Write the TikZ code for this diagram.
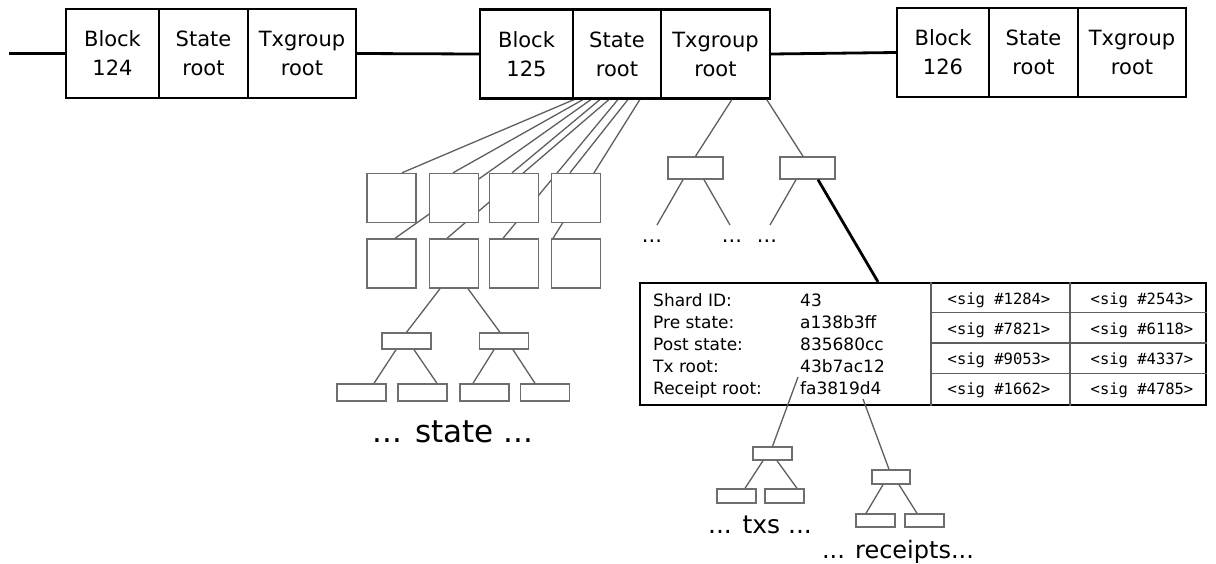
\documentclass[tikz,border=0pt]{standalone}
\usepackage{fontspec}
\setmainfont{DejaVu Sans}
\setmonofont{DejaVu Sans Mono}
\pgfdeclarelayer{bg}
\pgfsetlayers{bg,main}
\definecolor{lg}{HTML}{5E5E5E}
\definecolor{bx}{HTML}{6E6E6E}
\tikzset{
  cell/.style={draw, line width=2.4pt, minimum height=89pt, inner sep=0pt, align=center, font=\fontsize{21}{29}\selectfont},
  sq/.style={draw=bx, fill=white, line width=1.4pt, minimum width=49pt, minimum height=49pt, inner sep=0pt},
  sm/.style={draw=bx, fill=white, line width=1.4pt, inner sep=0pt},
  conn/.style={draw=lg, line width=1.3pt},
  chain/.style={draw, line width=2.8pt},
  lbl/.style={anchor=base west, inner sep=0pt, font=\fontsize{17}{17}\selectfont},
  sig/.style={anchor=base, inner sep=0pt, font=\ttfamily\fontsize{15.5}{15.5}\selectfont},
  dots/.style={inner sep=0pt, font=\fontsize{21}{21}\selectfont},
}
\begin{document}
\begin{tikzpicture}[x=1pt,y=-1pt]
\useasboundingbox (0,0) rectangle (1216,563);
% blocks
\node[cell, minimum width=93pt] (b124) at (112.5,53.5) {Block\\124};
\node[cell, minimum width=89pt] (s124) at (203.5,53.5) {State\\root};
\node[cell, minimum width=108pt] (t124) at (302,53.5) {Txgroup\\root};
\node[cell, minimum width=93pt] (b125) at (526.5,54) {Block\\125};
\node[cell, minimum width=88pt] (s125) at (617,54) {State\\root};
\node[cell, minimum width=109pt] (t125) at (715.5,54) {Txgroup\\root};
\node[cell, minimum width=92pt] (b126) at (943,52.5) {Block\\126};
\node[cell, minimum width=89pt] (s126) at (1033.5,52.5) {State\\root};
\node[cell, minimum width=108pt] (t126) at (1132,52.5) {Txgroup\\root};
\coordinate (lft) at (9,53.5);
\draw[chain] (lft) -- (b124.west);
\draw[chain] (t124.east) -- (b125.west);
\draw[chain] (t125.east) -- (b126.west);

% state boxes
\node[sq] (r1c1) at (391.5,198) {};
\node[sq] (r1c2) at (454,198) {};
\node[sq] (r1c3) at (514,198) {};
\node[sq] (r1c4) at (576,198) {};
\node[sq] (r2c1) at (391.5,263.5) {};
\node[sq] (r2c2) at (454,263.5) {};
\node[sq] (r2c3) at (514,263.5) {};
\node[sq] (r2c4) at (576,263.5) {};
\begin{pgfonlayer}{bg}
\draw[conn] ([xshift=2pt]s125.south west) -- ([xshift=10.5pt]r1c1.north);
\draw[conn] ([xshift=11pt]s125.south west) -- ([xshift=-1pt]r1c2.north);
\draw[conn] ([xshift=19pt]s125.south west) -- ([xshift=3.5pt]r2c1.north);
\draw[conn] ([xshift=28pt]s125.south west) -- ([xshift=-2pt]r1c3.north);
\draw[conn] ([xshift=37pt]s125.south west) -- ([xshift=-7pt]r2c2.north);
\draw[conn] ([xshift=46pt]s125.south west) -- ([xshift=-11pt]r2c3.north);
\draw[conn] ([xshift=56pt]s125.south west) -- ([xshift=-6pt]r1c4.north);
\draw[conn] ([xshift=68pt]s125.south west) -- ([xshift=-23pt]r2c4.north);
\end{pgfonlayer}

% state subtree
\node[sm, minimum width=49pt, minimum height=16pt] (mA) at (406.5,341) {};
\node[sm, minimum width=49pt, minimum height=16pt] (mB) at (504,341) {};
\node[sm, minimum width=49pt, minimum height=17pt] (l1) at (361.5,392.5) {};
\node[sm, minimum width=49pt, minimum height=17pt] (l2) at (422.5,392.5) {};
\node[sm, minimum width=49pt, minimum height=17pt] (l3) at (484.5,392.5) {};
\node[sm, minimum width=49pt, minimum height=17pt] (l4) at (545,392.5) {};
\draw[conn] ([xshift=-14pt]r2c2.south) -- (mA.north);
\draw[conn] ([xshift=14pt]r2c2.south) -- ([xshift=-4pt]mB.north);
\draw[conn] ([xshift=-10.5pt]mA.south) -- ([xshift=12.5pt]l1.north);
\draw[conn] ([xshift=7.5pt]mA.south) -- ([xshift=14.5pt]l2.north);
\draw[conn] ([xshift=-10pt]mB.south) -- ([xshift=-11.5pt]l3.north);
\draw[conn] ([xshift=9pt]mB.south) -- ([xshift=-10pt]l4.north);
\node[inner sep=0pt, font=\fontsize{31}{31}\selectfont] (stt) at (453,432) {... state ...};

% txgroup subtree
\node[sm, minimum width=55pt, minimum height=22pt] (tL) at (695.5,168) {};
\node[sm, minimum width=55pt, minimum height=22pt] (tR) at (807.5,168) {};
\draw[conn] ([xshift=72pt]t125.south west) -- (tL.north);
\draw[conn] ([xshift=107pt]t125.south west) -- ([xshift=-4.5pt]tR.north);
\coordinate (e1) at (657,225);
\coordinate (e2) at (730,225);
\coordinate (e3) at (770,225);
\draw[conn] ([xshift=-12.5pt]tL.south) -- (e1);
\draw[conn] ([xshift=8.5pt]tL.south) -- (e2);
\draw[conn] ([xshift=-11.5pt]tR.south) -- (e3);
\node[dots] (d1) at (652,241) {...};
\node[dots] (d2) at (732,241) {...};
\node[dots] (d3) at (767,241) {...};

% table
\node[draw, line width=2.2pt, minimum width=566pt, minimum height=122pt, inner sep=0pt] (tbl) at (923,344) {};
\draw[line width=2.8pt] ([xshift=10.5pt]tR.south) -- ([xshift=-45pt]tbl.north);
\draw[draw=lg, line width=1.3pt] ([xshift=292pt]tbl.north west) -- ([xshift=292pt]tbl.south west);
\draw[draw=lg, line width=1.3pt] ([xshift=431pt]tbl.north west) -- ([xshift=431pt]tbl.south west);
\draw[draw=lg, line width=1.3pt] ([xshift=292pt,yshift=-30.5pt]tbl.north west) -- ([yshift=-30.5pt]tbl.north east);
\draw[draw=lg, line width=1.3pt] ([xshift=292pt,yshift=-61pt]tbl.north west) -- ([yshift=-61pt]tbl.north east);
\draw[draw=lg, line width=1.3pt] ([xshift=292pt,yshift=-91.5pt]tbl.north west) -- ([yshift=-91.5pt]tbl.north east);

\node[lbl] (k1) at (653,306) {Shard ID:};
\node[lbl] (k2) at (653,328) {Pre state:};
\node[lbl] (k3) at (653,350) {Post state:};
\node[lbl] (k4) at (653,372) {Tx root:};
\node[lbl] (k5) at (653,394) {Receipt root:};
\node[lbl] (v1) at (800,306) {43};
\node[lbl] (v2) at (800,328) {a138b3ff};
\node[lbl] (v3) at (800,350) {835680cc};
\node[lbl] (v4) at (800,372) {43b7ac12};
\node[lbl] (v5) at (800,394) {fa3819d4};

\node[sig] (g1) at (999,304.5) {<sig \#1284>};
\node[sig] (g2) at (1142,304.5) {<sig \#2543>};
\node[sig] (g3) at (999,334.5) {<sig \#7821>};
\node[sig] (g4) at (1142,334.5) {<sig \#6118>};
\node[sig] (g5) at (999,364.5) {<sig \#9053>};
\node[sig] (g6) at (1142,364.5) {<sig \#4337>};
\node[sig] (g7) at (999,394.5) {<sig \#1662>};
\node[sig] (g8) at (1142,394.5) {<sig \#4785>};

% txs and receipts subtrees
\node[sm, minimum width=39pt, minimum height=13pt] (tx) at (772.5,453.5) {};
\node[sm, minimum width=39pt, minimum height=14pt] (tx1) at (736.5,496) {};
\node[sm, minimum width=39pt, minimum height=14pt] (tx2) at (784.5,496) {};
\node[sm, minimum width=38pt, minimum height=14pt] (rc) at (891,477) {};
\node[sm, minimum width=39pt, minimum height=13pt] (rc1) at (875.5,520.5) {};
\node[sm, minimum width=39pt, minimum height=13pt] (rc2) at (924.5,520.5) {};
\coordinate (txs) at (798,377);
\coordinate (rcs) at (863,399);
\draw[conn] (txs) -- (tx.north);
\draw[conn] (rcs) -- ([xshift=-2pt]rc.north);
\draw[conn] ([xshift=-9.5pt]tx.south) -- ([xshift=8.5pt]tx1.north);
\draw[conn] ([xshift=4.5pt]tx.south) -- ([xshift=12.5pt]tx2.north);
\draw[conn] ([xshift=-8pt]rc.south) -- ([xshift=-9.5pt]rc1.north);
\draw[conn] ([xshift=8pt]rc.south) -- ([xshift=-7.5pt]rc2.north);
\node[inner sep=0pt, font=\fontsize{25}{25}\selectfont] (txt) at (760,525) {... txs ...};
\node[inner sep=0pt, font=\fontsize{24}{24}\selectfont] (rct) at (898,552) {... receipts...};
\end{tikzpicture}
\end{document}
